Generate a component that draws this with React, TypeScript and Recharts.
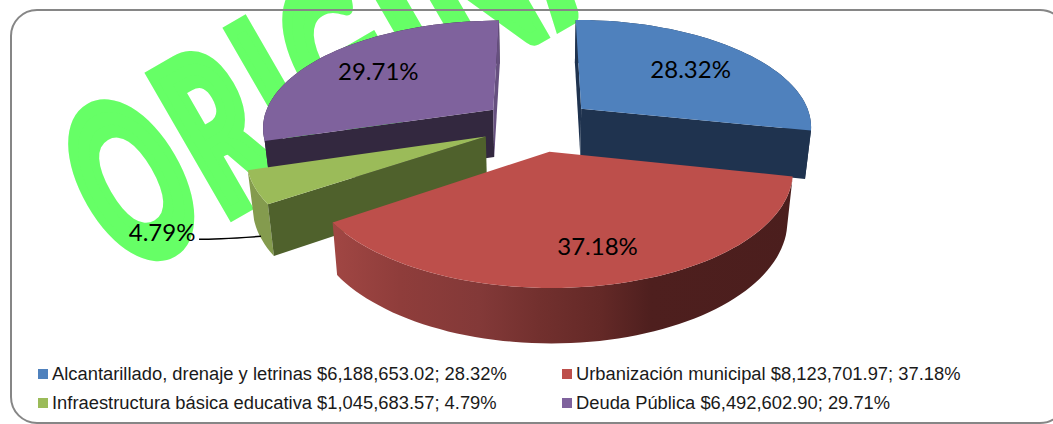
import { PieChart, Pie, Legend } from 'recharts';

const categories = [
  'Alcantarillado, drenaje y letrinas',
  'Urbanización municipal',
  'Infraestructura básica educativa',
  'Deuda Pública',
];
const amounts = [6188653.02, 8123701.97, 1045683.57, 6492602.9];
const amountLabels = ['$6,188,653.02', '$8,123,701.97', '$1,045,683.57', '$6,492,602.90'];
const percentLabels = ['28.32%', '37.18%', '4.79%', '29.71%'];

const data = categories.map((name, i) => ({ name, value: amounts[i] }));

const topColors = ['#4f81bd', '#bd4f4b', '#9bbb59', '#7f629d'];
const faceColors = ['#1f334f', '#4b1e1d', '#4f612c', '#33283f'];
const rimColors = ['#1f334f', 'url(#redRim)', '#849b4e', '#33283f'];
const sliverColors = ['#1f334f', '#4b1e1d', '#4f612c', '#66507f'];
const labelRadius = [0.67, 0.74, 0.7, 0.69];
const labelNudge = [1, 8, 0, 1];
// far slices first so the near ones cover them
const drawOrder = [0, 3, 2, 1];

const CX = 538;
const CY = 125;
const RADIUS = 240;
const EXPLODE = 59;
const TILT = 0.445;
const PERSPECTIVE = 0.000627;
const XSCALE = 0.965;
const DEPTH = 48;
const ZSHRINK = 0.022;

const rad = (deg: number) => (deg * Math.PI) / 180;

// world x/y on the pie plane -> screen, z = 1 is the bottom of the solid
function project(x: number, y: number, z = 0): [number, number] {
  const f = 1 / (1 + PERSPECTIVE * y);
  const k = 1 - ZSHRINK * z;
  return [CX + x * f * XSCALE * k, CY - y * TILT * f * k + DEPTH * f * z];
}

function toPath(points: [number, number][]) {
  return points.map((p, i) => `${i ? 'L' : 'M'}${p[0].toFixed(1)},${p[1].toFixed(1)}`).join(' ') + ' Z';
}

function shoelace(points: [number, number][]) {
  let sum = 0;
  points.forEach((p, i) => {
    const q = points[(i + 1) % points.length];
    sum += p[0] * q[1] - q[0] * p[1];
  });
  return sum;
}

function sliceShape(only: number) {
  return (props: any) => {
    if (props.index !== only) return <g />;
    const { startAngle, endAngle, midAngle, outerRadius } = props;
    // recharts angles run counter-clockwise from east, here clockwise from north
    const from = 90 - startAngle;
    const to = 90 - endAngle;
    const mid = rad(90 - midAngle);
    const ox = EXPLODE * Math.sin(mid);
    const oy = EXPLODE * Math.cos(mid);
    const rim = (deg: number, z: number) =>
      project(ox + outerRadius * Math.sin(rad(deg)), oy + outerRadius * Math.cos(rad(deg)), z);

    const arcTop: [number, number][] = [];
    const arcBottom: [number, number][] = [];
    for (let a = from; a < to; a += 2) {
      arcTop.push(rim(a, 0));
      arcBottom.push(rim(a, 1));
    }
    arcTop.push(rim(to, 0));
    arcBottom.push(rim(to, 1));

    const apexTop = project(ox, oy, 0);
    const apexBottom = project(ox, oy, 1);
    const startFace: [number, number][] = [apexTop, rim(from, 0), rim(from, 1), apexBottom];
    const endFace: [number, number][] = [apexTop, rim(to, 0), rim(to, 1), apexBottom];

    return (
      <g>
        <defs>
          <linearGradient id="redRim" gradientUnits="userSpaceOnUse" x1="335" y1="0" x2="800" y2="0">
            <stop offset="0%" stopColor="#a04643" />
            <stop offset="14%" stopColor="#8f3d3b" />
            <stop offset="31%" stopColor="#833938" />
            <stop offset="44%" stopColor="#72302e" />
            <stop offset="57%" stopColor="#642927" />
            <stop offset="68%" stopColor="#4e1f1e" />
            <stop offset="100%" stopColor="#4b1e1d" />
          </linearGradient>
        </defs>
        <path d={toPath([...arcTop, ...arcBottom.slice().reverse()])} fill={rimColors[only]} />
        {shoelace(startFace) < 0 && <path d={toPath(startFace)} fill={faceColors[only]} />}
        {shoelace(endFace) > 0 && <path d={toPath(endFace)} fill={sliverColors[only]} />}
        <path d={toPath([apexTop, ...arcTop])} fill={topColors[only]} />
      </g>
    );
  };
}

function sliceLabel(only: number) {
  return (props: any) => {
    if (props.index !== only) return <g />;
    const mid = rad(90 - props.midAngle);
    const ox = EXPLODE * Math.sin(mid);
    const oy = EXPLODE * Math.cos(mid);
    const text = `${(props.percent * 100).toFixed(2)}%`;
    const common = { fontFamily: 'Lato, sans-serif', fontSize: 24, fill: '#000', textAnchor: 'middle' as const, dominantBaseline: 'central' as const };
    if (only === 2) {
      // small slice: label sits outside with a leader line
      const r = props.outerRadius;
      const [x, y] = project(ox + r * Math.sin(mid), oy + r * Math.cos(mid), 1);
      return (
        <g>
          <path d={`M${x - 62},${y + 1} Q${x - 45},${y + 1} ${x},${y - 2}`} stroke="#000" strokeWidth={1.5} fill="none" />
          <text {...common} x={x - 99} y={y - 7}>{text}</text>
        </g>
      );
    }
    const r = props.outerRadius * labelRadius[only];
    const [x, y] = project(ox + r * Math.sin(mid), oy + r * Math.cos(mid));
    return <text {...common} x={x + labelNudge[only]} y={y}>{text}</text>;
  };
}

function LegendContent() {
  return (
    <div
      style={{
        display: 'grid',
        gridTemplateColumns: '524px 480px',
        rowGap: 8,
        fontFamily: '"Liberation Sans", Arial, sans-serif',
        fontSize: 18.35,
        lineHeight: '21px',
        color: '#1a1a1a',
        whiteSpace: 'nowrap',
      }}
    >
      {categories.map((name, i) => (
        <div key={name} style={{ display: 'flex', alignItems: 'center' }}>
          <span style={{ width: 10, height: 10, marginRight: 4, background: topColors[i] }} />
          <span>{`${name} ${amountLabels[i]}; ${percentLabels[i]}`}</span>
        </div>
      ))}
    </div>
  );
}

export default function App() {
  return (
    <div style={{ position: 'absolute', left: 0, top: 0, width: 1053, height: 424, overflow: 'hidden', background: '#fff' }}>
      <div
        style={{
          position: 'absolute',
          left: 140,
          top: 172,
          fontFamily: 'Lato, sans-serif',
          fontWeight: 900,
          fontSize: 125,
          lineHeight: 1,
          color: '#66ff66',
          WebkitTextStroke: '8px #66ff66',
          letterSpacing: 9,
          transformOrigin: '0 100%',
          transform: 'rotate(-30deg) scale(1, 1.75)',
          whiteSpace: 'nowrap',
        }}
      >
        ORIGINAL
      </div>
      <div
        style={{
          position: 'absolute',
          left: 10,
          top: 9,
          width: 1057,
          height: 415,
          boxSizing: 'border-box',
          border: '2px solid #868686',
          borderRadius: 27,
        }}
      />
      <PieChart width={1053} height={424} margin={{ top: 0, right: 0, bottom: 0, left: 0 }} style={{ position: 'absolute', left: 0, top: 0 }}>
        {drawOrder.map((i) => (
          <Pie
            key={i}
            data={data}
            dataKey="value"
            nameKey="name"
            cx={CX}
            cy={CY}
            innerRadius={0}
            outerRadius={RADIUS}
            startAngle={90}
            endAngle={-270}
            stroke="none"
            isAnimationActive={false}
            shape={sliceShape(i)}
            label={sliceLabel(i)}
            labelLine={false}
          />
        ))}
        <Legend
          content={LegendContent}
          layout="vertical"
          wrapperStyle={{ position: 'absolute', left: 38, top: 363, width: 1010, bottom: 'auto' }}
        />
      </PieChart>
    </div>
  );
}
